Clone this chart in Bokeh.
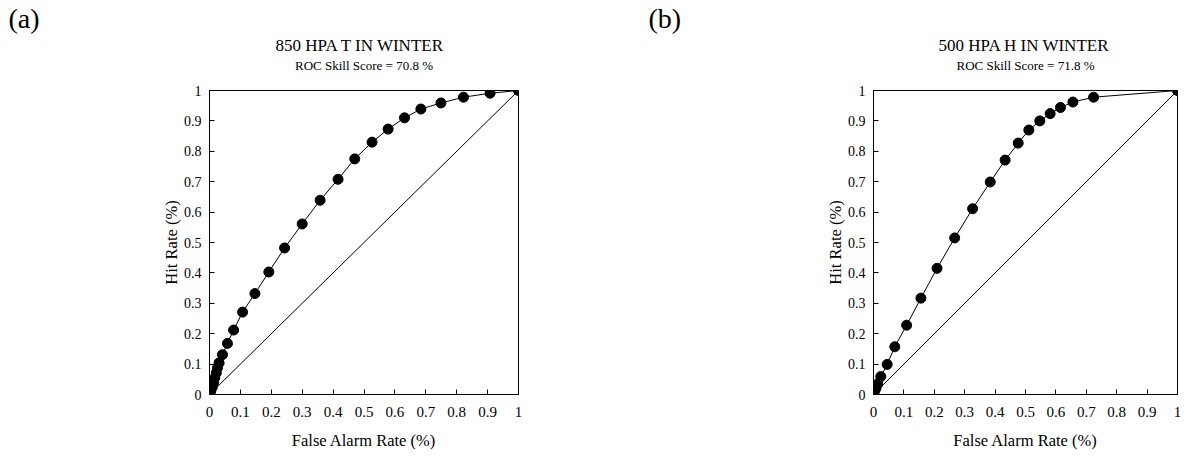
from bokeh.plotting import figure
from bokeh.layouts import row
from bokeh.models import Range1d, FixedTicker, Title, LinearAxis
from bokeh.embed import file_html
from bokeh.resources import INLINE

# ---- data ----
far_a = [0, 0.004, 0.009, 0.013, 0.017, 0.022, 0.026, 0.031, 0.042, 0.058, 0.078,
         0.107, 0.147, 0.192, 0.243, 0.300, 0.358, 0.416, 0.470, 0.526, 0.578,
         0.631, 0.684, 0.749, 0.822, 0.908, 1.0]
hr_a = [0, 0.011, 0.024, 0.038, 0.055, 0.071, 0.088, 0.104, 0.131, 0.168, 0.212,
        0.271, 0.332, 0.403, 0.482, 0.561, 0.639, 0.708, 0.775, 0.830, 0.873,
        0.910, 0.939, 0.959, 0.978, 0.991, 1.0]

far_b = [0, 0.003, 0.008, 0.014, 0.024, 0.045, 0.070, 0.109, 0.156, 0.209, 0.267,
         0.326, 0.384, 0.433, 0.476, 0.511, 0.547, 0.581, 0.615, 0.656, 0.724, 1.0]
hr_b = [0, 0.009, 0.020, 0.035, 0.059, 0.099, 0.157, 0.228, 0.317, 0.415, 0.515,
        0.611, 0.699, 0.771, 0.827, 0.870, 0.900, 0.924, 0.944, 0.962, 0.978, 1.0]

diag = [0, 1]
ticks = [0, 0.1, 0.2, 0.3, 0.4, 0.5, 0.6, 0.7, 0.8, 0.9, 1]
tick_labels = {0: "0", 0.1: "0.1", 0.2: "0.2", 0.3: "0.3", 0.4: "0.4", 0.5: "0.5",
               0.6: "0.6", 0.7: "0.7", 0.8: "0.8", 0.9: "0.9", 1: "1"}

FONT = "Liberation Serif"


def make_panel(far, hr, letter, title, score, fw, left, right, letter_offset, title_offset):
    p = figure(frame_width=fw, frame_height=304, min_border_left=left,
               min_border_right=right, min_border_top=89, min_border_bottom=62,
               x_range=Range1d(0, 1), y_range=Range1d(0, 1),
               output_backend="svg", toolbar_location=None)
    p.grid.visible = False
    p.outline_line_color = "black"
    p.outline_line_width = 1
    p.outline_line_alpha = 1
    p.background_fill_color = "white"
    p.border_fill_color = "white"
    for ax in (p.xaxis[0], p.yaxis[0]):
        ax.ticker = FixedTicker(ticks=ticks)
        ax.major_label_overrides = tick_labels
        ax.major_tick_in = 5
        ax.major_tick_out = 0
        ax.minor_tick_line_color = None
        ax.axis_line_color = "black"
        ax.major_tick_line_color = "black"
        ax.major_label_text_font = FONT
        ax.major_label_text_color = "black"
        ax.axis_label_text_font = FONT
        ax.axis_label_text_font_size = "16.5px"
        ax.axis_label_text_font_style = "normal"
        ax.axis_label_text_color = "black"
    p.xaxis.major_label_text_font_size = "15px"
    p.yaxis.major_label_text_font_size = "14px"
    p.xaxis.axis_label = "False Alarm Rate (%)"
    p.yaxis.axis_label = "Hit Rate (%)"
    p.xaxis.major_label_standoff = 12
    p.yaxis.major_label_standoff = 8
    p.xaxis.axis_label_standoff = 11
    p.yaxis.axis_label_standoff = 0

    p.line(diag, diag, line_color="black", line_width=1)
    p.line(far, hr, line_color="black", line_width=1)
    p.scatter(far, hr, size=10, fill_color="black", line_color="black")

    # subtitle as the label of an empty axis above the frame
    sub = LinearAxis(ticker=FixedTicker(ticks=[]), axis_label=score,
                     axis_line_color=None, major_tick_line_color=None,
                     minor_tick_line_color=None, major_tick_in=0, major_tick_out=0,
                     axis_label_standoff=18, axis_label_text_font=FONT,
                     axis_label_text_font_size="13px",
                     axis_label_text_font_style="normal",
                     axis_label_text_color="black")
    p.add_layout(sub, "above")
    p.add_layout(Title(text=title, align="left", offset=title_offset,
                       text_font=FONT, text_font_size="17px",
                       text_font_style="normal", text_color="black",
                       standoff=0), "above")
    p.add_layout(Title(text=letter, align="left", offset=letter_offset,
                       text_font=FONT, text_font_size="28px",
                       text_line_height=0.9,
                       text_font_style="normal", text_color="black",
                       standoff=0), "above")
    return p


p1 = make_panel(far_a, hr_a, "(a)", "850 HPA T IN WINTER",
                "ROC Skill Score = 70.8 %", 309, 209, 100, -201, 66)
p2 = make_panel(far_b, hr_b, "(b)", "500 HPA H IN WINTER",
                "ROC Skill Score = 71.8 %", 304, 255, 6, -225, 65)

layout = row(p1, p2)
open("out.html", "w").write(file_html(layout, INLINE))
